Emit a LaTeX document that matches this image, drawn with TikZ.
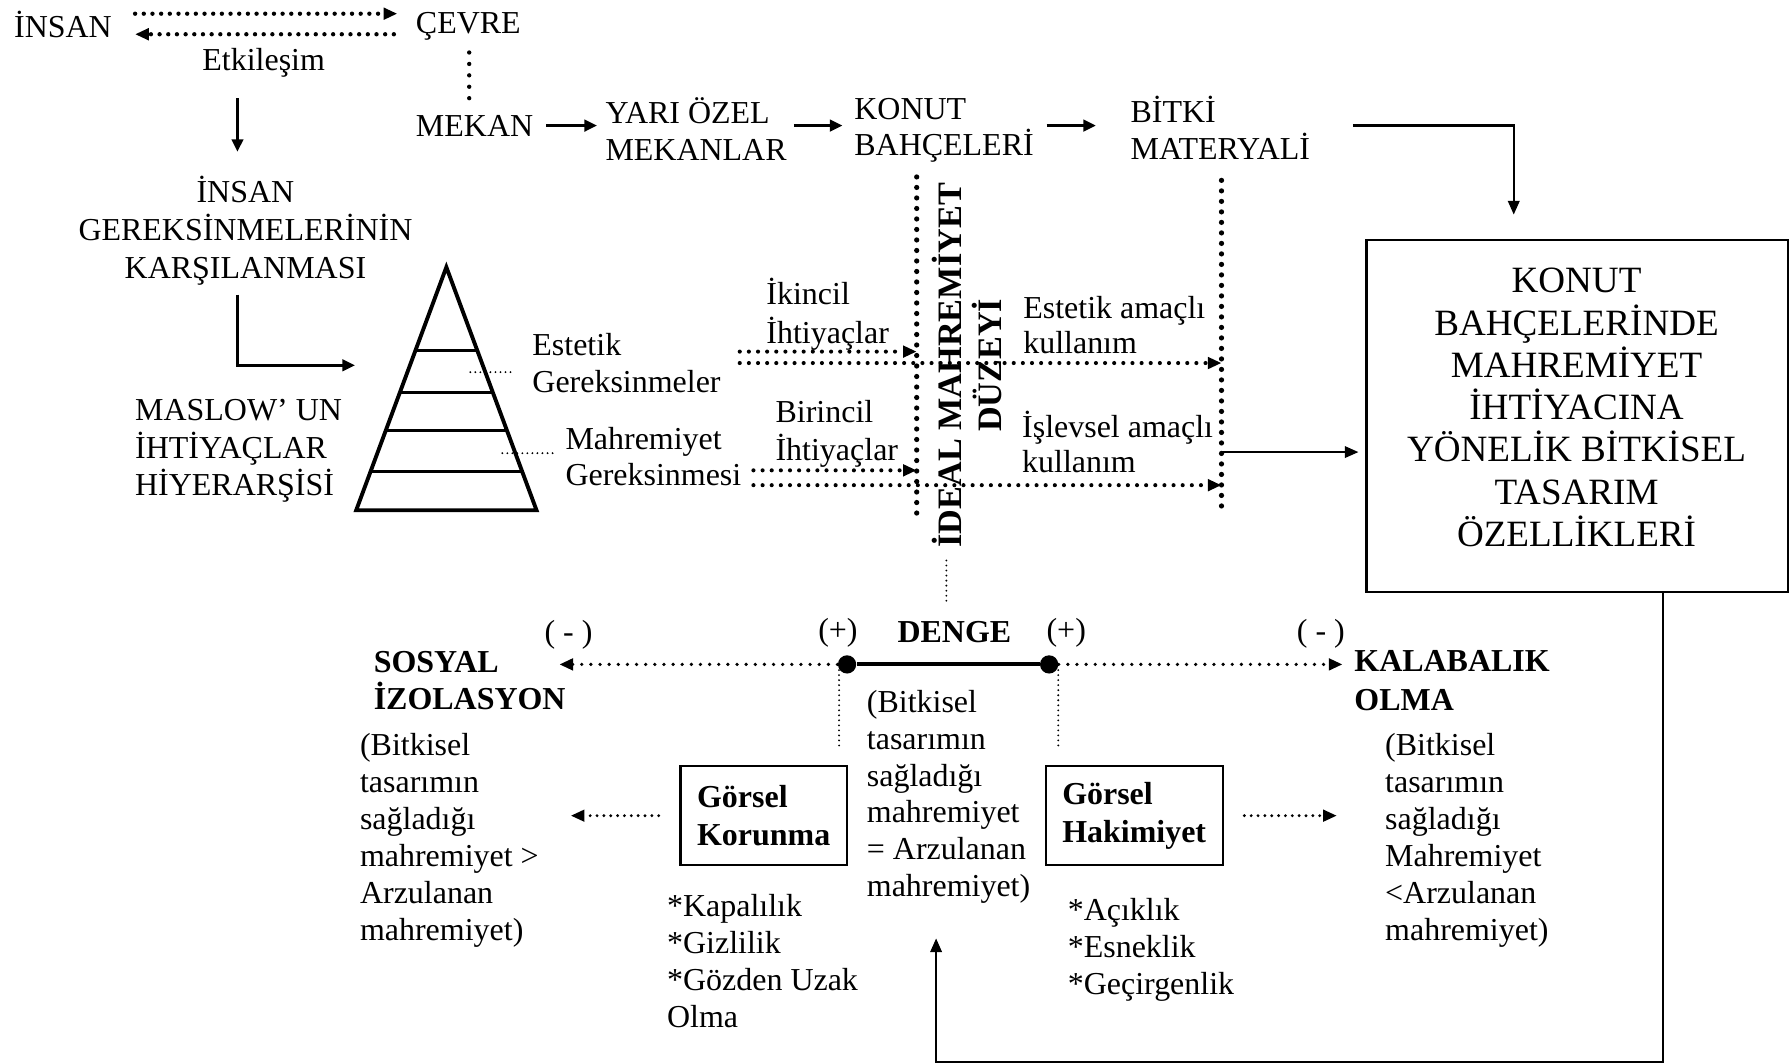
\documentclass[tikz,border=0pt]{standalone}
\usepackage{fontspec}
\setmainfont{Liberation Serif}
\usetikzlibrary{arrows.meta,calc}
\newcommand\myfs[1]{\fontsize{14}{#1}\selectfont}
\newcommand\myfb[1]{\fontsize{14}{#1}\selectfont\bfseries}
\begin{document}
\begin{tikzpicture}[x=0.5pt,y=-0.5pt,
  txt/.style={inner sep=0pt,font=\myfs{16.3}},
  bigdot/.style={line width=2.3pt,dash pattern=on 0pt off 4.6pt,line cap=round},
  meddot/.style={line width=1.9pt,dash pattern=on 0pt off 3.8pt,line cap=round},
  smalldot/.style={line width=1.8pt,dash pattern=on 0pt off 4pt,line cap=round},
  finedot/.style={line width=1.4pt,dash pattern=on 0pt off 3pt,line cap=round},
  thindot/.style={line width=0.9pt,dash pattern=on 0pt off 2.2pt,line cap=round},
  tip/.style={-{Triangle[length=6pt,width=5pt]}},
  sarrow/.style={line width=1.3pt,-{Triangle[length=5.5pt,width=5pt]}},
  farrow/.style={line width=1pt,-{Triangle[length=6pt,width=5pt]}},
  box/.style={draw,line width=1pt,inner sep=0pt},
  dotnode/.style={circle,fill,inner sep=0pt,minimum size=8pt}
]
\useasboundingbox (0,0) rectangle (1568,932);

% ---------- top ----------
\node[txt,anchor=west] (insan) at (12,21) {İNSAN};
\node[txt,anchor=west] (cevre) at (364,23) {ÇEVRE};
\draw[meddot,tip,transform canvas={yshift=4.5pt},shorten <=10pt,shorten >=8pt] (insan.east) -- (insan.east -| cevre.west);
\draw[meddot,tip,transform canvas={yshift=-4.5pt},shorten <=9.5pt,shorten >=10pt] (insan.east -| cevre.west) -- (insan.east);
\node[txt] (etk) at (231,55) {Etkileşim};
\coordinate (etkb) at (208,86);
\coordinate (igt) at (208,133);
\draw[sarrow] (etkb) -- (igt);
\coordinate (vc1) at (411,46);
\coordinate (vc2) at (411,86);
\draw[meddot,dash pattern=on 0pt off 5pt] (vc1) -- (vc2);

% ---------- second row ----------
\node[txt,anchor=west] (mekan) at (364,110) {MEKAN};
\node[txt,anchor=west,align=left,font=\myfs{16}] (yari) at (530,113) {YARI ÖZEL\\MEKANLAR};
\node[txt,anchor=west,align=left,font=\myfs{16}] (konut) at (748,114) {KONUT\\BAHÇELERİ};
\node[txt,anchor=west,align=left,font=\myfs{16}] (bitki) at (990,112) {BİTKİ\\MATERYALİ};
\draw[sarrow,shorten <=5.5pt,shorten >=3.5pt] (mekan.east) -- (mekan.east -| yari.west);
\draw[sarrow,shorten <=3pt,shorten >=5pt] (mekan.east -| yari.east) -- (mekan.east -| konut.west);
\draw[sarrow,shorten <=5.5pt,shorten >=15pt] (mekan.east -| konut.east) -- (mekan.east -| bitki.west);
\coordinate (bk1) at (1185,110);
\coordinate (bk2) at (1326,188);
\draw[farrow] (bk1) -| (bk2);

% ---------- big box ----------
\node[box,minimum width=184.5pt,minimum height=154pt] (kb) at (1381.5,364.5) {};
\node[inner sep=0pt,align=center,font=\fontsize{16.25}{18.5}\selectfont] (kbt) at (1381,357)
 {KONUT\\BAHÇELERİNDE\\MAHREMİYET\\İHTİYACINA\\YÖNELİK BİTKİSEL\\TASARIM\\ÖZELLİKLERİ};

% ---------- left column ----------
\node[txt,align=center,font=\myfs{16.5}] (ig) at (215,202) {İNSAN\\GEREKSİNMELERİNİN\\KARŞILANMASI};
\node[txt,anchor=west,align=left,font=\myfs{16.5}] (maslow) at (118,395) {MASLOW’ UN\\İHTİYAÇLAR\\HİYERARŞİSİ};
\coordinate (igb) at (208,258);
\coordinate (trin) at (311,320);
\draw[sarrow] (igb) |- (trin);

% pyramid
\coordinate (tA) at (391,234);
\coordinate (tL) at (312,447);
\coordinate (tR) at (470,447);
\draw[line width=1.7pt,line join=miter] (tA) -- (tR) -- (tL) -- cycle;
\foreach \f in {0.343,0.516,0.671,0.840}
  \draw[line width=1.3pt] ($(tA)!\f!(tL)$) -- ($(tA)!\f!(tR)$);

% leaders and labels
\node[txt,anchor=west,align=left,font=\myfs{16.25}] (estg) at (466,318) {Estetik\\Gereksinmeler};
\node[txt,anchor=west,align=left,font=\myfs{15.5}] (mahg) at (495,400) {Mahremiyet\\Gereksinmesi};
\coordinate (ld1) at (412,326);
\coordinate (ld2) at (448,326);
\coordinate (ld3) at (440,397);
\coordinate (ld4) at (486,397);
\draw[thindot] (ld1) -- (ld2);
\draw[thindot] (ld3) -- (ld4);

% ---------- ideal level ----------
\coordinate (vl1) at (803,155);
\coordinate (vl2) at (803,455);
\coordinate (vr1) at (1070,158);
\coordinate (vr2) at (1070,450);
\draw[bigdot] (vl1) -- (vl2);
\draw[bigdot] (vr1) -- (vr2);
\node[inner sep=0pt,rotate=90,align=center,font=\fontsize{15}{17.5}\selectfont\bfseries] (ideal) at (847,320) {İDEAL MAHREMİYET\\DÜZEYİ};

\node[txt,anchor=west,align=left,font=\myfs{17}] (ikin) at (671,275) {İkincil\\İhtiyaçlar};
\node[txt,anchor=west,align=left,font=\myfs{17}] (birin) at (679,380) {Birincil\\İhtiyaçlar};
\node[txt,anchor=west,align=left,font=\myfs{15.25}] (estk) at (896,285) {Estetik amaçlı\\kullanım};
\node[txt,anchor=west,align=left,font=\myfs{15.5}] (isl) at (895,387) {İşlevsel amaçlı\\kullanım};

\coordinate (u1) at (648,308);
\coordinate (u2) at (648,318);
\coordinate (w1) at (660,412);
\coordinate (w2) at (660,425);
\draw[smalldot,tip] (u1) -- (u1 -| vl1);
\draw[smalldot,tip] (u2) -- (u2 -| vr1);
\draw[smalldot,tip] (w1) -- (w1 -| vl1);
\draw[smalldot,tip] (w2) -- (w2 -| vr1);

\coordinate (r1) at (1070,396);
\draw[farrow,shorten >=3pt] (r1) -- (r1 -| kb.west);

% ---------- balance ----------
\coordinate (id1) at (829,491);
\coordinate (id2) at (829,527);
\draw[thindot] (id1) -- (id2);

\node[dotnode] (dl) at (742,582) {};
\node[dotnode] (dr) at (919,582) {};
\draw[line width=1.8pt] (dl) -- (dr);
\coordinate (ltip) at (490,582);
\coordinate (rtip) at (1176,582);
\draw[smalldot,line width=1.6pt,tip] (dl) -- (ltip);
\draw[smalldot,line width=1.6pt,tip] (dr) -- (rtip);

\node[txt] (pl) at (734,554) {(+)};
\node[txt,font=\myfb{16}] (denge) at (836,554) {DENGE};
\node[txt] (pr) at (934,554) {(+)};
\node[txt] (ml) at (498,556) {( - )};
\node[txt] (mr) at (1157,555) {( - )};

\node[txt,anchor=west,align=left,font=\myfb{16}] (sos) at (327,596) {SOSYAL\\İZOLASYON};
\node[txt,anchor=west,align=left,font=\myfb{17}] (kal) at (1186,596) {KALABALIK\\OLMA};

\coordinate (dv1) at (735,587);
\coordinate (dv2) at (735,655);
\coordinate (dv3) at (927,587);
\coordinate (dv4) at (927,655);
\draw[thindot] (dv1) -- (dv2);
\draw[thindot] (dv3) -- (dv4);

\node[txt,anchor=west,align=left,font=\myfs{16.15}] (lt) at (315,736)
 {(Bitkisel\\tasarımın\\sağladığı\\mahremiyet >\\Arzulanan\\mahremiyet)};
\node[txt,anchor=west,align=left,font=\myfs{16.1}] (mt) at (759,698)
 {(Bitkisel\\tasarımın\\sağladığı\\mahremiyet\\= Arzulanan\\mahremiyet)};
\node[txt,anchor=west,align=left,font=\myfs{16.15}] (rt) at (1213,736)
 {(Bitkisel\\tasarımın\\sağladığı\\Mahremiyet\\<Arzulanan\\mahremiyet)};

\node[box,align=left,font=\myfb{16.5},minimum width=73pt,minimum height=43.5pt] (gk) at (669,714.5) {Görsel\\Korunma};
\node[box,align=left,font=\myfb{16.5},minimum width=77.5pt,minimum height=43.5pt] (gh) at (993.5,714.5) {Görsel\\Hakimiyet};
\draw[finedot,tip] ([xshift=-9pt]gk.west) -- ([xshift=-47.5pt]gk.west);
\draw[finedot,tip] ([xshift=9pt]gh.east) -- ([xshift=49.5pt]gh.east);

\node[txt,anchor=west,align=left,font=\myfs{16.2}] (bkl) at (584,842) {*Kapalılık\\*Gizlilik\\*Gözden Uzak\\Olma};
\node[txt,anchor=west,align=left,font=\myfs{16.2}] (bal) at (935,832) {*Açıklık\\*Esneklik\\*Geçirgenlik};

% feedback
\coordinate (fb1) at (1457,930);
\coordinate (fb2) at (820,822);
\draw[farrow] (kb.south -| fb1) -- (fb1) -| (fb2);
\end{tikzpicture}
\end{document}
